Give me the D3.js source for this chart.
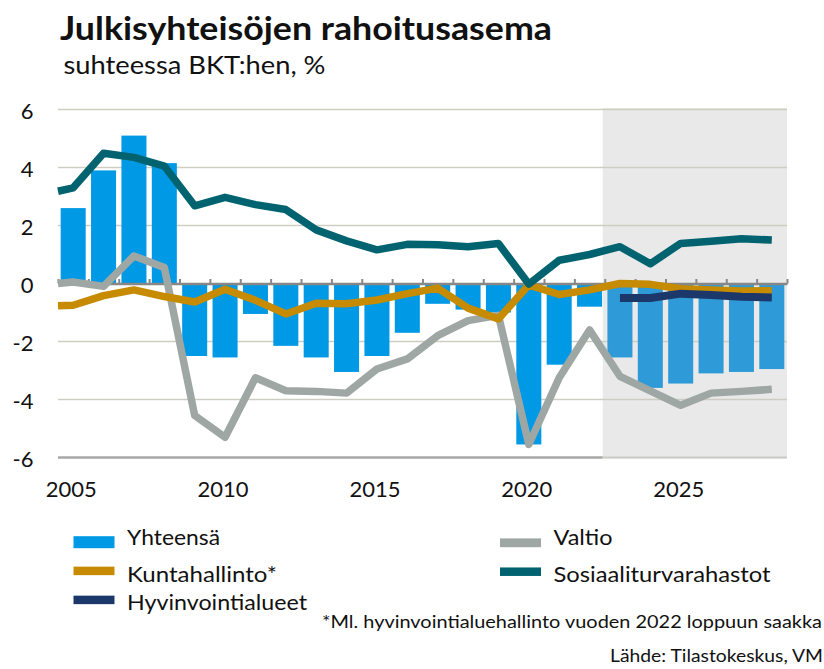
<!DOCTYPE html>
<html><head><meta charset="utf-8">
<script src="https://cdn.jsdelivr.net/npm/d3@7/dist/d3.min.js"></script>
<style>
html,body{margin:0;padding:0;background:#fff;}
svg{display:block;font-family:Lato,"Open Sans",sans-serif;}
</style></head><body>
<svg id="chart" width="824" height="669"></svg>
<script>
// ---- data ----
const years = [2005,2006,2007,2008,2009,2010,2011,2012,2013,2014,2015,2016,2017,2018,2019,2020,2021,2022,2023,2024,2025,2026,2027,2028];
const yhteensa = [2.6,3.9,5.1,4.15,-2.5,-2.55,-1.05,-2.15,-2.55,-3.05,-2.5,-1.7,-0.7,-0.9,-1.0,-5.55,-2.8,-0.8,-2.55,-3.6,-3.45,-3.1,-3.05,-2.95];
const lineYears = [2004.5,2005,2006,2007,2008,2009,2010,2011,2012,2013,2014,2015,2016,2017,2018,2019,2020,2021,2022,2023,2024,2025,2026,2027,2028];
const valtio = [0.0,0.05,-0.1,0.95,0.55,-4.55,-5.3,-3.25,-3.7,-3.72,-3.78,-2.95,-2.6,-1.8,-1.28,-1.1,-5.55,-3.25,-1.6,-3.2,-3.7,-4.2,-3.78,-3.72,-3.65];
const kuntahallinto = [-0.77,-0.75,-0.42,-0.22,-0.45,-0.64,-0.2,-0.58,-1.05,-0.68,-0.7,-0.57,-0.35,-0.16,-0.85,-1.22,-0.05,-0.38,-0.22,0.0,-0.03,-0.18,-0.22,-0.26,-0.25];
const sosiaaliturvarahastot = [3.18,3.3,4.49,4.35,4.05,2.68,2.97,2.72,2.55,1.85,1.47,1.16,1.35,1.34,1.27,1.38,-0.02,0.8,1.0,1.27,0.68,1.38,1.46,1.54,1.5];
const hyvYears = [2023,2024,2025,2026,2027,2028];
const hyvinvointialueet = [-0.5,-0.5,-0.35,-0.4,-0.46,-0.48];
const forecastStart = 2023;
const yTicks = [-6,-4,-2,0,2,4,6];
const xLabelYears = [2005,2010,2015,2020,2025];
const seriesNames = ["Yhteensä","Valtio","Kuntahallinto*","Sosiaaliturvarahastot","Hyvinvointialueet"];
const titleText = "Julkisyhteisöjen rahoitusasema";
const subtitleText = "suhteessa BKT:hen, %";
const footnoteText = "*Ml. hyvinvointialuehallinto vuoden 2022 loppuun saakka";
const sourceText = "Lähde: Tilastokeskus, VM";

// ---- styles ----
const C = {
  bar: "#0099e5", barF: "#2e9bd8",
  valtio: "#9fa7a5", kunta: "#c68b00", sos: "#00636f", hyv: "#1c386b",
  grid: "#cdcdc3", axis: "#878787", shade: "#e9e9e9"
};
const seriesColors = [C.bar, C.valtio, C.kunta, C.sos, C.hyv];

const svg = d3.select("#chart");
const L = 58, R = 787;
const x = d3.scaleLinear().domain([2004.5, 2028.5]).range([L, R]);
const xb = d3.scaleBand().domain(years).range([L, R]).paddingInner(0.176).paddingOuter(0.088);
const y = d3.scaleLinear().domain([-6, 6]).range([457.5, 109.5]);

// title
svg.append("text").attr("x", 60).attr("y", 39.5)
  .attr("font-size", 33).attr("font-weight", 700).attr("fill", "#111")
  .attr("textLength", 492).attr("lengthAdjust", "spacingAndGlyphs").text(titleText);
svg.append("text").attr("x", 63.5).attr("y", 74)
  .attr("font-size", 25).attr("fill", "#111")
  .attr("textLength", 262).attr("lengthAdjust", "spacingAndGlyphs").text(subtitleText);

// shaded forecast area
const sx = x(forecastStart - 0.5) - 2;
svg.append("rect").attr("x", sx).attr("y", y(6) - 1.5)
  .attr("width", x(2028.5) - sx).attr("height", y(-6) - y(6) + 2.5)
  .attr("fill", C.shade);

// gridlines
const gridG = svg.append("g");
yTicks.filter(v => v !== 0 && v !== -6).forEach(v => {
  gridG.append("line").attr("x1", L).attr("x2", R).attr("y1", y(v)).attr("y2", y(v))
    .attr("stroke", C.grid).attr("stroke-width", 1.3);
});
gridG.append("line").attr("x1", L).attr("x2", sx).attr("y1", y(-6)).attr("y2", y(-6))
  .attr("stroke", "#a8a8a8").attr("stroke-width", 2.5);
gridG.append("line").attr("x1", sx).attr("x2", R).attr("y1", y(-6)).attr("y2", y(-6))
  .attr("stroke", "#cbcbc6").attr("stroke-width", 2);

// bars
svg.append("g").selectAll("rect").data(years.map((yr, i) => ({yr, v: yhteensa[i]})))
  .join("rect")
  .attr("x", d => xb(d.yr)).attr("width", xb.bandwidth())
  .attr("y", d => y(Math.max(0, d.v))).attr("height", d => Math.abs(y(d.v) - y(0)))
  .attr("fill", d => d.yr >= forecastStart ? C.barF : C.bar);

// zero axis with tick marks
const boundaries = years.map(d => d - 0.5).concat([years[years.length - 1] + 0.5]);
const zeroAxis = svg.append("g").attr("transform", `translate(0,${y(0)})`)
  .call(d3.axisBottom(x).tickValues(boundaries).tickSize(-4.5).tickSizeOuter(0).tickFormat(""));
zeroAxis.select(".domain").attr("stroke", C.axis).attr("stroke-width", 2.5);
zeroAxis.selectAll(".tick line").attr("stroke", C.axis).attr("stroke-width", 2);

// lines
const line = d3.line().x(d => x(d[0])).y(d => y(d[1]));
const addLine = (xs, vs, color, w) => svg.append("path")
  .datum(xs.map((xx, i) => [xx, vs[i]]))
  .attr("d", line).attr("fill", "none").attr("stroke", color)
  .attr("stroke-width", w).attr("stroke-linejoin", "round").attr("stroke-linecap", "butt");
addLine(lineYears, valtio, C.valtio, 7.5);
addLine(lineYears, kuntahallinto, C.kunta, 7.5);
addLine(lineYears, sosiaaliturvarahastot, C.sos, 7.5);
addLine(hyvYears, hyvinvointialueet, C.hyv, 8);

// y axis labels
const yAx = svg.append("g").attr("transform", "translate(33.5,0)")
  .call(d3.axisLeft(y).tickValues(yTicks).tickSize(0).tickPadding(0).tickFormat(d => String(d)));
yAx.select(".domain").remove();
yAx.selectAll("text").attr("font-size", 22).attr("font-family", "Lato, sans-serif")
  .attr("fill", "#111").attr("dy", 9).attr("x", 0);

// x axis labels
const xAx = svg.append("g").attr("transform", `translate(-2.5,${y(-6)})`)
  .call(d3.axisBottom(x).tickValues(xLabelYears).tickSize(0).tickFormat(d3.format("d")));
xAx.select(".domain").remove();
xAx.selectAll("text").attr("font-size", 22).attr("font-family", "Lato, sans-serif")
  .attr("fill", "#111").attr("y", 39).attr("dy", 0);

// legend
const legendPos = [
  {sx: 73.5, cy: 542.2, h: 12, tx: 127, ty: 545, w: 93},
  {sx: 500, cy: 542.8, h: 8.8, tx: 553.5, ty: 545, w: 59},
  {sx: 73.5, cy: 570.9, h: 8.5, tx: 127, ty: 581.7, w: 150},
  {sx: 500, cy: 571.7, h: 8.5, tx: 553.5, ty: 581.7, w: 217},
  {sx: 73.5, cy: 599.9, h: 8.5, tx: 127, ty: 610, w: 180}
];
const lg = svg.append("g");
seriesNames.forEach((name, i) => {
  const p = legendPos[i];
  lg.append("rect").attr("x", p.sx).attr("y", p.cy - p.h / 2).attr("width", 41).attr("height", p.h)
    .attr("fill", seriesColors[i]);
  lg.append("text").attr("x", p.tx).attr("y", p.ty).attr("font-size", 21.5).attr("fill", "#111")
    .attr("textLength", p.w).attr("lengthAdjust", "spacingAndGlyphs").text(name);
});

// footnotes
svg.append("text").attr("x", 322).attr("y", 628).attr("font-size", 18).attr("fill", "#111")
  .attr("textLength", 500).attr("lengthAdjust", "spacingAndGlyphs").text(footnoteText);
svg.append("text").attr("x", 610).attr("y", 661.5).attr("font-size", 18).attr("fill", "#111")
  .attr("textLength", 213).attr("lengthAdjust", "spacingAndGlyphs").text(sourceText);
</script>
</body></html>
